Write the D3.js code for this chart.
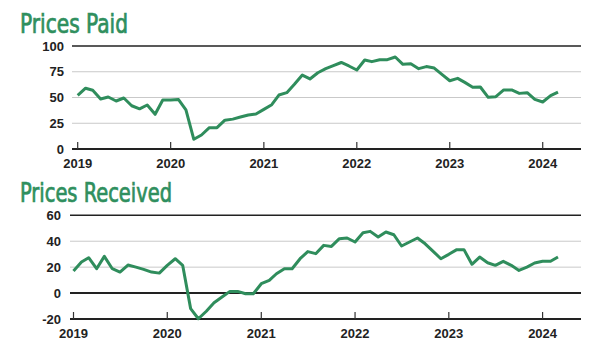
<!DOCTYPE html>
<html lang="en">
<head>
    <meta charset="UTF-8">
    <title>Prices Paid / Prices Received</title>
    <style>
        body { margin: 0; background: #fff; }
        .title { font-family: "Liberation Sans Narrow", "DejaVu Sans Condensed", "Arial Narrow", sans-serif; font-stretch: condensed; fill: #2f8f5e; stroke: #2f8f5e; stroke-width: 0.7px; }
        .tick-label { font-family: "Liberation Sans", Arial, sans-serif; font-weight: bold; font-size: 13px; fill: #222; }
    </style>
    <script src="https://d3js.org/d3.v7.min.js"></script>
</head>
<body>
<div id="chart"></div>
<script>
    // monthly readings, Jan 2019 .. Mar 2024
    const startMonth = new Date(2019, 0, 1);
    const endMonth = new Date(2024, 2, 1);
    const yearTicks = [2019, 2020, 2021, 2022, 2023, 2024];

    const pricesPaid = [
        52, 59, 57, 48.5, 50.5, 46.6, 49.5, 42, 39, 42.7, 33.7, 47.6,
        47.6, 48, 38, 9.4, 13.6, 20.7, 20.7, 28, 29, 31, 33, 34,
        38.5, 43, 52.4, 54.7, 62.8, 71.8, 68, 74, 78, 81, 84, 80.6,
        76.7, 86.4, 84.8, 86.7, 86.7, 89.3, 82.2, 82.8, 78, 80, 78.6, 72.5,
        66.3, 68.6, 64.7, 60, 60.2, 50.2, 50.8, 57.3, 57.3, 54, 54.7, 48.2,
        45.6, 51.8, 55.3
    ];
    const pricesReceived = [
        17, 24, 27.3, 18.8, 28.3, 18.8, 16.2, 21.6, 20, 18.3, 16.2, 15.4,
        21.4, 26.5, 21.4, -12, -19.8, -14, -7.5, -3, 1.3, 1.3, -0.5, -0.5,
        7.2, 9.8, 14.9, 18.8, 18.8, 26.5, 32, 30.4, 36.8, 36, 42, 42.5,
        39.4, 46.6, 47.6, 43.2, 47.1, 45, 36.3, 39.4, 42.5, 38, 32.2, 26.5,
        29.9, 33.5, 33.5, 22.2, 27.8, 23.4, 21.4, 24.5, 21.4, 17.5, 20, 23.2,
        24.5, 24.5, 27.8
    ];

    const paidTicks = [0, 25, 50, 75, 100];
    const receivedTicks = [-20, 0, 20, 40, 60];

    const months = d3.timeMonth.range(startMonth, d3.timeMonth.offset(endMonth, 1));

    const svg = d3.select("#chart").append("svg")
        .attr("width", 597)
        .attr("height", 352);

    function drawPanel(cfg) {
        const x = d3.scaleTime().domain([startMonth, endMonth]).range(cfg.xRange);
        const y = d3.scaleLinear().domain(cfg.yDomain).range(cfg.yRange);
        const g = svg.append("g");

        g.append("text")
            .attr("class", "title")
            .attr("x", 20)
            .attr("y", cfg.titleY)
            .attr("font-size", 26)
            .attr("textLength", cfg.titleWidth)
            .attr("lengthAdjust", "spacingAndGlyphs")
            .text(cfg.title);

        // horizontal grid
        g.selectAll(".grid").data(cfg.yTicks).join("line")
            .attr("x1", cfg.gridLeft).attr("x2", 581)
            .attr("y1", d => y(d)).attr("y2", d => y(d))
            .attr("stroke", d => cfg.darkLines.includes(d) ? "#222" : "#c9c9c9")
            .attr("stroke-width", d => d === cfg.yDomain[1] ? 1.5 : (cfg.darkLines.includes(d) ? 2 : 1));

        g.selectAll(".ylab").data(cfg.yTicks).join("text")
            .attr("class", "tick-label")
            .attr("x", cfg.labelRight)
            .attr("y", d => y(d))
            .attr("dy", "0.36em")
            .attr("text-anchor", "end")
            .text(d => d);

        // year ticks
        const yearDates = yearTicks.map(yr => new Date(yr, 0, 1));
        g.selectAll(".xtick").data(yearDates).join("line")
            .attr("x1", d => x(d)).attr("x2", d => x(d))
            .attr("y1", y(cfg.yDomain[0]) - 7).attr("y2", y(cfg.yDomain[0]))
            .attr("stroke", "#333")
            .attr("stroke-width", 1.2);

        g.selectAll(".xlab").data(yearDates).join("text")
            .attr("class", "tick-label")
            .attr("x", d => x(d))
            .attr("y", cfg.yearY)
            .attr("text-anchor", "middle")
            .text(d => d.getFullYear());

        const line = d3.line()
            .x((d, i) => x(months[i]))
            .y(d => y(d));

        g.append("path")
            .datum(cfg.values)
            .attr("d", line)
            .attr("fill", "none")
            .attr("stroke", "#2f8d5c")
            .attr("stroke-width", 3)
            .attr("stroke-linejoin", "round");
    }

    drawPanel({
        title: "Prices Paid",
        titleY: 33,
        titleWidth: 108,
        values: pricesPaid,
        yDomain: [0, 100],
        yRange: [149, 46],
        yTicks: paidTicks,
        darkLines: [0, 100],
        xRange: [77.7, 558],
        gridLeft: 72,
        labelRight: 64,
        yearY: 167.5
    });

    drawPanel({
        title: "Prices Received",
        titleY: 202,
        titleWidth: 152,
        values: pricesReceived,
        yDomain: [-20, 60],
        yRange: [319, 215.3],
        yTicks: receivedTicks,
        darkLines: [-20, 0, 60],
        xRange: [73.5, 558],
        gridLeft: 70,
        labelRight: 61,
        yearY: 338
    });
</script>
</body>
</html>
